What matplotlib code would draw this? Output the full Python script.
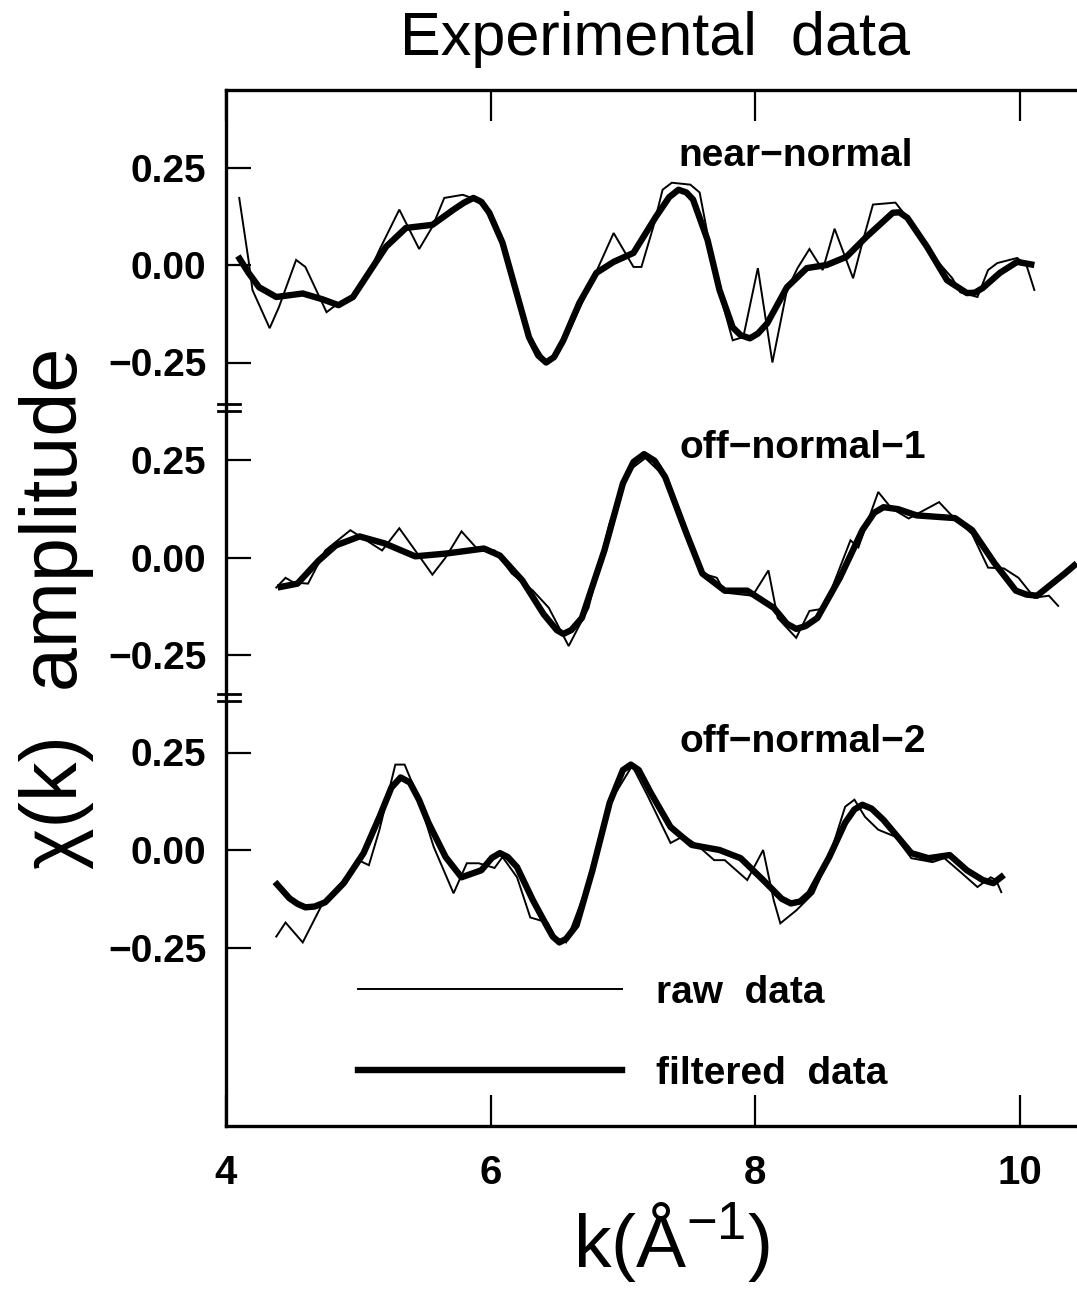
import matplotlib
matplotlib.use('Agg')
import matplotlib.pyplot as plt
from matplotlib.lines import Line2D

plt.rcParams['font.family'] = ['Liberation Sans', 'DejaVu Sans']
plt.rcParams['mathtext.fontset'] = 'custom'
plt.rcParams['mathtext.rm'] = 'Liberation Sans'
plt.rcParams['mathtext.it'] = 'Liberation Sans'
plt.rcParams['mathtext.bf'] = 'Liberation Sans:bold'

# ---------------- data (k in 1/A, chi(k)) ----------------
panel_names = ['near−normal', 'off−normal−1', 'off−normal−2']
panel_offsets = [1.5, 0.75, 0.0]
ytick_values = [-0.25, 0.0, 0.25]
ytick_labels = ['−0.25', '0.00', '0.25']
xtick_values = [4, 6, 8, 10]
xtick_labels = ['4', '6', '8', '10']
legend_labels = ['raw  data', 'filtered  data']

near_raw_k = [4.10, 4.17, 4.20, 4.33, 4.40, 4.53, 4.60, 4.76, 4.83, 4.96, 5.08, 5.16, 5.31, 5.46,
              5.56, 5.65, 5.79, 5.89, 5.97, 6.09, 6.19, 6.29, 6.42, 6.52, 6.62, 6.77, 6.93, 7.08,
              7.14, 7.23, 7.30, 7.37, 7.51, 7.58, 7.71, 7.83, 7.91, 8.02, 8.13, 8.24, 8.32, 8.41,
              8.51, 8.60, 8.74, 8.81, 8.89, 9.06, 9.12, 9.30, 9.49, 9.55, 9.68, 9.76, 9.83, 9.98,
              10.05, 10.11]
near_raw_y = [0.172, 0.013, -0.064, -0.162, -0.108, 0.013, -0.005, -0.121, -0.103, -0.080, -0.020,
              0.039, 0.142, 0.041, 0.098, 0.172, 0.180, 0.168, 0.142, 0.060, -0.060, -0.180, -0.250,
              -0.220, -0.150, -0.039, 0.082, -0.005, -0.005, 0.098, 0.193, 0.211, 0.206, 0.186,
              -0.046, -0.193, -0.185, -0.008, -0.250, -0.064, -0.008, 0.041, -0.013, 0.093, -0.034,
              0.057, 0.155, 0.160, 0.134, 0.040, -0.034, -0.070, -0.082, -0.013, 0.005, 0.018,
              0.000, -0.064]
near_filt_k = [4.09, 4.17, 4.25, 4.38, 4.58, 4.73, 4.85, 4.96, 5.08, 5.21, 5.36, 5.56, 5.72, 5.80,
               5.87, 5.93, 5.99, 6.09, 6.19, 6.29, 6.36, 6.42, 6.48, 6.55, 6.67, 6.80, 6.93, 7.08,
               7.25, 7.35, 7.42, 7.48, 7.53, 7.64, 7.73, 7.83, 7.89, 7.96, 8.02, 8.09, 8.24, 8.39,
               8.54, 8.69, 8.84, 9.04, 9.09, 9.15, 9.30, 9.45, 9.60, 9.66, 9.72, 9.85, 9.98, 10.11]
near_filt_y = [0.023, -0.020, -0.057, -0.082, -0.073, -0.088, -0.103, -0.082, -0.020, 0.047, 0.095,
               0.103, 0.142, 0.160, 0.172, 0.162, 0.134, 0.057, -0.064, -0.185, -0.232, -0.250,
               -0.236, -0.193, -0.098, -0.020, 0.008, 0.031, 0.124, 0.174, 0.193, 0.186, 0.168,
               0.064, -0.064, -0.160, -0.180, -0.188, -0.176, -0.150, -0.057, -0.008, 0.000, 0.021,
               0.072, 0.134, 0.135, 0.121, 0.046, -0.039, -0.072, -0.071, -0.059, -0.020, 0.008,
               0.000]

off1_raw_k = [4.38, 4.45, 4.51, 4.62, 4.75, 4.94, 5.18, 5.31, 5.43, 5.56, 5.66, 5.78, 5.91, 6.03,
              6.16, 6.32, 6.44, 6.59, 6.74, 6.90, 7.05, 7.17, 7.32, 7.48, 7.60, 7.71, 7.77, 7.98,
              8.10, 8.17, 8.31, 8.41, 8.52, 8.72, 8.78, 8.93, 9.03, 9.16, 9.39, 9.47, 9.64, 9.76,
              9.88, 9.99, 10.11, 10.22, 10.29]
off1_raw_y = [-0.077, -0.052, -0.064, -0.067, 0.018, 0.070, 0.018, 0.075, 0.018, -0.044, 0.000,
              0.067, 0.018, 0.018, -0.041, -0.085, -0.129, -0.227, -0.129, 0.088, 0.224, 0.255,
              0.206, 0.062, -0.041, -0.052, -0.090, -0.098, -0.033, -0.155, -0.206, -0.137, -0.131,
              0.044, 0.026, 0.168, 0.126, 0.100, 0.142, 0.113, 0.060, -0.026, -0.028, -0.052,
              -0.103, -0.098, -0.124]
off1_filt_k = [4.39, 4.54, 4.70, 4.83, 5.01, 5.20, 5.43, 5.66, 5.95, 6.07, 6.24, 6.40, 6.50, 6.55,
               6.61, 6.69, 6.86, 7.00, 7.08, 7.16, 7.24, 7.32, 7.48, 7.60, 7.77, 7.94, 8.14, 8.24,
               8.31, 8.38, 8.47, 8.64, 8.81, 8.90, 8.97, 9.08, 9.22, 9.51, 9.64, 9.81, 9.97, 10.05,
               10.13, 10.34, 10.43]
off1_filt_y = [-0.077, -0.067, -0.008, 0.031, 0.054, 0.036, 0.003, 0.010, 0.023, 0.005, -0.059,
               -0.145, -0.186, -0.196, -0.186, -0.155, 0.018, 0.190, 0.245, 0.265, 0.248, 0.206,
               0.062, -0.041, -0.085, -0.085, -0.129, -0.170, -0.183, -0.176, -0.155, -0.052, 0.070,
               0.115, 0.129, 0.124, 0.108, 0.101, 0.070, -0.015, -0.085, -0.095, -0.098, -0.041,
               -0.015]

off2_raw_k = [4.38, 4.45, 4.58, 4.73, 4.87, 5.00, 5.08, 5.16, 5.28, 5.35, 5.45, 5.57, 5.72, 5.82,
              5.91, 6.03, 6.09, 6.20, 6.30, 6.43, 6.49, 6.57, 6.69, 6.77, 6.90, 7.07, 7.19, 7.36,
              7.46, 7.56, 7.69, 7.77, 7.94, 8.06, 8.14, 8.19, 8.31, 8.44, 8.56, 8.68, 8.75, 8.83,
              8.93, 9.06, 9.18, 9.34, 9.43, 9.56, 9.68, 9.78, 9.82, 9.86]
off2_raw_y = [-0.222, -0.186, -0.237, -0.137, -0.085, -0.026, -0.039, 0.052, 0.219, 0.219, 0.137,
              0.008, -0.111, -0.034, -0.034, -0.046, -0.018, -0.070, -0.173, -0.186, -0.224, -0.237,
              -0.129, -0.052, 0.121, 0.216, 0.137, 0.018, 0.036, 0.013, -0.026, -0.026, -0.077,
              0.000, -0.129, -0.188, -0.155, -0.111, -0.018, 0.111, 0.129, 0.085, 0.052, 0.034,
              -0.021, -0.031, -0.021, -0.059, -0.095, -0.070, -0.077, -0.108]
off2_filt_k = [4.37, 4.48, 4.54, 4.60, 4.67, 4.75, 4.89, 5.04, 5.16, 5.25, 5.32, 5.39, 5.46, 5.53,
               5.66, 5.78, 5.93, 6.01, 6.07, 6.13, 6.20, 6.32, 6.43, 6.47, 6.52, 6.57, 6.65, 6.77,
               6.90, 7.00, 7.06, 7.12, 7.21, 7.36, 7.52, 7.73, 7.89, 8.06, 8.20, 8.27, 8.34, 8.41,
               8.56, 8.68, 8.75, 8.81, 8.88, 8.97, 9.18, 9.31, 9.47, 9.60, 9.72, 9.80, 9.88]
off2_filt_y = [-0.082, -0.124, -0.138, -0.147, -0.145, -0.134, -0.085, -0.008, 0.085, 0.160, 0.186,
               0.173, 0.128, 0.070, -0.018, -0.070, -0.052, -0.020, -0.008, -0.018, -0.044, -0.129,
               -0.198, -0.222, -0.237, -0.228, -0.193, -0.052, 0.121, 0.205, 0.219, 0.205, 0.147,
               0.059, 0.013, 0.000, -0.021, -0.077, -0.125, -0.137, -0.132, -0.111, -0.018, 0.070,
               0.104, 0.116, 0.106, 0.077, -0.008, -0.021, -0.013, -0.052, -0.077, -0.085, -0.064]

raw_series = [(near_raw_k, near_raw_y), (off1_raw_k, off1_raw_y), (off2_raw_k, off2_raw_y)]
filt_series = [(near_filt_k, near_filt_y), (off1_filt_k, off1_filt_y), (off2_filt_k, off2_filt_y)]

# ---------------- figure ----------------
W, H = 1077, 1293
fig = plt.figure(figsize=(W / 100, H / 100), dpi=100)
ax = fig.add_axes([226 / W, 1 - 1126 / H, (1077 - 226) / W, (1126 - 90) / H])
ax.set_xlim(4, 4 + 851 / 132.3)
ax.set_ylim(-276 / 390, 760 / 390)

thin_lw, thick_lw = 1.4, 4.6
for (rk, ry), (fk, fy), off in zip(raw_series, filt_series, panel_offsets):
    ax.plot(rk, [v + off for v in ry], color='black', lw=thin_lw, solid_joinstyle='miter')
    ax.plot(fk, [v + off for v in fy], color='black', lw=thick_lw, solid_joinstyle='round',
            solid_capstyle='butt')

# panel labels
label_pos = [(7.42, 1.78), (7.43, 1.03), (7.43, 0.277)]
for name, (lx, ly) in zip(panel_names, label_pos):
    ax.text(lx, ly, name, fontsize=28, fontweight='bold', ha='left', va='center')

# ticks
yt, ytl = [], []
for off in panel_offsets:
    for v, l in zip(ytick_values, ytick_labels):
        yt.append(off + v)
        ytl.append(l)
ax.set_yticks(yt)
ax.set_yticklabels(ytl, fontsize=28, fontweight='bold')
ax.set_xticks(xtick_values)
ax.set_xticklabels(xtick_labels, fontsize=29, fontweight='bold')
ax.tick_params(axis='x', direction='in', length=22, width=1.6, top=True, pad=20)
ax.tick_params(axis='y', direction='in', length=18, width=1.6, pad=14)

for s in ['left', 'bottom', 'top']:
    ax.spines[s].set_linewidth(2.4)
ax.spines['right'].set_visible(False)

# axis break marks on left spine
tr = ax.get_yaxis_transform()
for yb in [1.134, 0.39]:
    for d in (-0.009, 0.009):
        ax.plot([-0.0095, 0.0165], [yb + d, yb + d], color='black', lw=2.0,
                transform=tr, clip_on=False)

# legend
handles = [Line2D([], [], color='black', lw=thin_lw), Line2D([], [], color='black', lw=thick_lw)]
leg = ax.legend(handles, legend_labels, loc='upper left', bbox_to_anchor=(0.155, 0.146),
                frameon=False, handlelength=6.8, handletextpad=0.87, labelspacing=1.16,
                borderpad=0, borderaxespad=0, prop={'size': 28, 'weight': 'bold'})

# titles / labels
fig.text(655 / W, 1 - 40 / H, 'Experimental  data', fontsize=44, ha='center', va='center')
fig.text(57 / W, 1 - 608 / H, 'χ(k)  amplitude', fontsize=57, rotation=90,
         ha='center', va='center')
fig.text(672 / W, 1 - 1242 / H, r'k(Å$^{\mathregular{-1}}$)', fontsize=54,
         ha='center', va='center')

fig.savefig('out.png', dpi=100)
